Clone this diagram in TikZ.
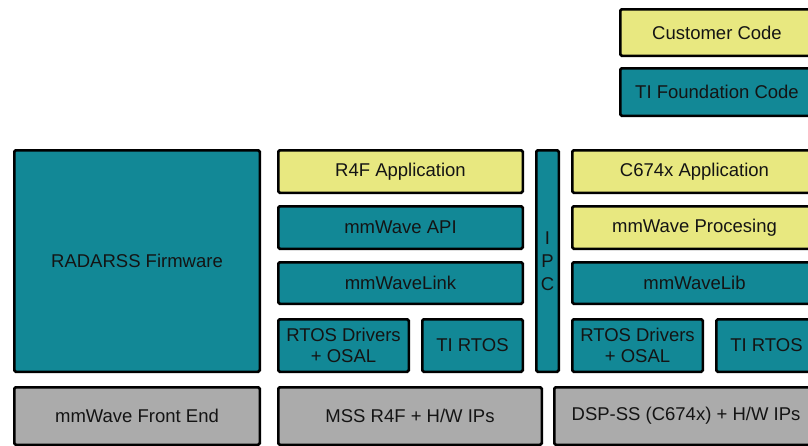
\documentclass[tikz,border=0pt]{standalone}
\usepackage{fontspec}
\setmainfont{Liberation Sans}
\definecolor{custy}{RGB}{232,232,128}
\definecolor{titeal}{RGB}{18,136,150}
\definecolor{hwgray}{RGB}{171,171,171}
\definecolor{txt}{RGB}{20,20,20}
\tikzset{
  blk/.style={draw=black, line width=2.5pt, rounded corners=1.5pt, inner sep=0pt,
    text=txt, font=\fontsize{18.5}{21.5}\selectfont, align=center},
  cust/.style={blk, fill=custy},
  ti/.style={blk, fill=titeal},
  hw/.style={blk, fill=hwgray},
}
% #1 style, #2 name, #3 x1, #4 y1, #5 x2, #6 y2, #7 text (outer edges in px)
\newcommand\bxnode[7]{%
  \node[#1, minimum width={#5-#3-2.5}, minimum height={#6-#4-2.5}]
    (#2) at ({(#3+#5)/2},{(#4+#6)/2}) {#7};}
\begin{document}
\begin{tikzpicture}[x=1pt, y=-1pt]
\useasboundingbox (0,0) rectangle (808,445);
\clip (0,0) rectangle (808,445);
% legend
\bxnode{cust}{cc}{619}{8}{815}{57}{Customer Code}
\bxnode{ti}{tf}{619}{67}{815}{117}{TI Foundation Code}
% left column
\bxnode{ti}{radar}{13}{149}{261}{373}{RADARSS Firmware}
\bxnode{hw}{fe}{13}{386}{261}{446}{mmWave Front End}
% middle column
\bxnode{cust}{r4f}{277}{149}{524}{194}{R4F Application}
\bxnode{ti}{api}{277}{205}{524}{250}{mmWave API}
\bxnode{ti}{link}{277}{261}{524}{305}{mmWaveLink}
\bxnode{ti}{drv1}{277}{318}{410}{373}{RTOS Drivers\\+ OSAL}
\bxnode{ti}{rtos1}{421}{318}{524}{373}{TI RTOS}
\bxnode{ti, font=\fontsize{18.5}{23}\selectfont}{ipc}{535}{149}{560}{373}{I\\P\\C}
\bxnode{hw}{mss}{277}{386}{543}{446}{MSS R4F + H/W IPs}
% right column
\bxnode{cust}{c674}{571}{149}{818}{194}{C674x Application}
\bxnode{cust}{proc}{571}{205}{818}{250}{mmWave Procesing}
\bxnode{ti}{lib}{571}{261}{818}{305}{mmWaveLib}
\bxnode{ti}{drv2}{571}{318}{704}{373}{RTOS Drivers\\+ OSAL}
\bxnode{ti}{rtos2}{715}{318}{818}{373}{TI RTOS}
\bxnode{hw}{dsp}{553}{386}{819}{446}{DSP-SS (C674x) + H/W IPs}
\end{tikzpicture}
\end{document}
